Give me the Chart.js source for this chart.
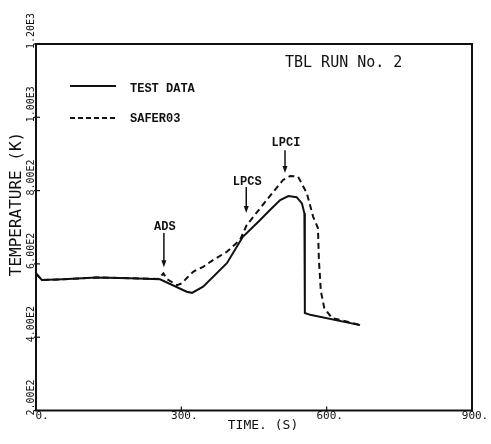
<!DOCTYPE html>
<html lang="en">
<head>
<meta charset="UTF-8">
<title>TBL RUN No. 2</title>
<script src="https://cdn.jsdelivr.net/npm/chart.js"></script>
<style>
  html, body { margin: 0; padding: 0; background: #fff; }
</style>
</head>
<body>
<canvas id="tblChart" width="491" height="444"></canvas>
<script>
// test data (solid)
const testTime = [0, 12, 56, 125, 194, 256, 311, 322, 345, 394, 427, 459, 483, 504, 521, 538, 549, 554, 555, 555, 566, 669];
const testTemp = [574, 556, 558, 563, 561, 558, 524, 521, 538, 602, 674, 715, 747, 774, 785, 782, 765, 738, 692, 466, 461, 433];

// SAFER03 (dashed)
const saferTime = [0, 12, 56, 125, 194, 252, 263, 271, 291, 301, 314, 325, 345, 366, 394, 421, 435, 476, 510, 525, 541, 559, 572, 582, 584, 588, 595, 611, 628, 669];
const saferTemp = [574, 556, 558, 563, 561, 559, 574, 558, 542, 547, 565, 579, 592, 611, 633, 665, 706, 774, 829, 840, 838, 793, 729, 698, 610, 526, 480, 452, 447, 433];

const xTicks = [0, 300, 600, 900];
const xTickLabels = ['0.', '300.', '600.', '900.'];
const yTicks = [200, 400, 600, 800, 1000, 1200];
const yTickLabels = ['2.00E2', '4.00E2', '6.00E2', '8.00E2', '1.00E3', '1.20E3'];

// event markers: label, time, text level, arrow start, arrow tip
const eventNames = ['ADS', 'LPCS', 'LPCI'];
const eventTime = [264, 434, 514];
const eventText = [701, 823, 930];
const eventFrom = [684, 810, 910];
const eventTip = [591, 739, 848];

const toPoints = (xs, ys) => xs.map((x, i) => ({ x: x, y: ys[i] }));

const mono = '"DejaVu Sans Mono", "Liberation Mono", monospace';

const decorations = {
  id: 'decorations',
  afterDraw(chart) {
    const ctx = chart.ctx;
    const a = chart.chartArea;
    const xs = chart.scales.x;
    const ys = chart.scales.y;
    ctx.save();
    ctx.strokeStyle = '#111';
    ctx.fillStyle = '#111';

    // frame
    ctx.lineWidth = 2;
    ctx.strokeRect(a.left, a.top, a.right - a.left, a.bottom - a.top);

    // ticks
    ctx.lineWidth = 1.2;
    xTicks.forEach(v => {
      const x = xs.getPixelForValue(v);
      ctx.beginPath();
      ctx.moveTo(x, a.bottom);
      ctx.lineTo(x, a.bottom - 4);
      ctx.stroke();
    });
    yTicks.forEach(v => {
      const y = ys.getPixelForValue(v);
      ctx.beginPath();
      ctx.moveTo(a.left - 2, y);
      ctx.lineTo(a.left + 4, y);
      ctx.stroke();
    });

    // tick labels
    ctx.font = '11px ' + mono;
    ctx.textAlign = 'center';
    ctx.textBaseline = 'middle';
    xTicks.forEach((v, i) => {
      const x = xs.getPixelForValue(v);
      ctx.fillText(xTickLabels[i], i === 0 ? x + 6 : x + 3, 416);
    });
    ctx.textAlign = 'left';
    ctx.font = '10px ' + mono;
    yTicks.forEach((v, i) => {
      const y = ys.getPixelForValue(v);
      ctx.save();
      ctx.translate(31, y + 5);
      ctx.rotate(-Math.PI / 2);
      ctx.fillText(yTickLabels[i], 0, 0);
      ctx.restore();
    });

    // axis titles
    ctx.font = '13px ' + mono;
    ctx.textAlign = 'center';
    ctx.fillText('TIME. (S)', 263, 426);
    ctx.save();
    ctx.translate(17, 204);
    ctx.rotate(-Math.PI / 2);
    ctx.font = '16px ' + mono;
    ctx.fillText('TEMPERATURE (K)', 0, 0);
    ctx.restore();

    // title
    ctx.textAlign = 'left';
    ctx.font = '15px ' + mono;
    ctx.fillText('TBL RUN No. 2', 285, 63);

    // legend
    ctx.lineWidth = 2;
    ctx.beginPath();
    ctx.moveTo(70, 86);
    ctx.lineTo(116, 86);
    ctx.stroke();
    ctx.setLineDash([5, 3]);
    ctx.beginPath();
    ctx.moveTo(70, 118);
    ctx.lineTo(116, 118);
    ctx.stroke();
    ctx.setLineDash([]);
    ctx.font = 'bold 12px "Liberation Mono", monospace';
    ctx.fillText('TEST DATA', 130, 89);
    ctx.fillText('SAFER03', 130, 119);

    // event arrows
    ctx.textAlign = 'center';
    ctx.font = 'bold 12px "Liberation Mono", monospace';
    ctx.lineWidth = 1.5;
    eventNames.forEach((name, i) => {
      const x = xs.getPixelForValue(eventTime[i]);
      const y0 = ys.getPixelForValue(eventFrom[i]);
      const y1 = ys.getPixelForValue(eventTip[i]);
      ctx.fillText(name, x + 1, ys.getPixelForValue(eventText[i]));
      ctx.beginPath();
      ctx.moveTo(x, y0);
      ctx.lineTo(x, y1 - 3);
      ctx.stroke();
      ctx.beginPath();
      ctx.moveTo(x - 2.5, y1 - 7);
      ctx.lineTo(x + 2.5, y1 - 7);
      ctx.lineTo(x, y1);
      ctx.closePath();
      ctx.fill();
    });
    ctx.restore();
  }
};

new Chart(document.getElementById('tblChart'), {
  type: 'line',
  data: {
    datasets: [
      {
        label: 'TEST DATA',
        data: toPoints(testTime, testTemp),
        borderColor: '#111',
        borderWidth: 2,
        pointRadius: 0,
        tension: 0
      },
      {
        label: 'SAFER03',
        data: toPoints(saferTime, saferTemp),
        borderColor: '#111',
        borderWidth: 2,
        borderDash: [6, 4],
        pointRadius: 0,
        tension: 0
      }
    ]
  },
  options: {
    responsive: false,
    animation: false,
    layout: { padding: { left: 36, right: 19, top: 44, bottom: 33.5 } },
    plugins: { legend: { display: false }, tooltip: { enabled: false } },
    scales: {
      x: { type: 'linear', min: 0, max: 900, display: false },
      y: { type: 'linear', min: 200, max: 1200, display: false }
    }
  },
  plugins: [decorations]
});
</script>
</body>
</html>
